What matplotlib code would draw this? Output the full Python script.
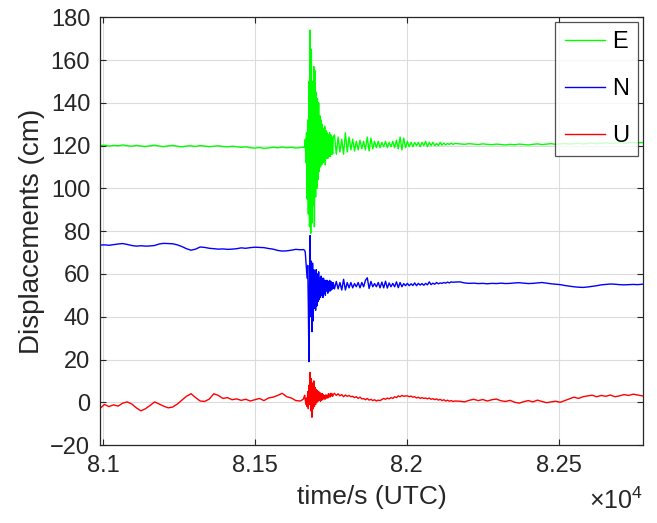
import numpy as np
import matplotlib
matplotlib.use("Agg")
import matplotlib.pyplot as plt

# sample times (s, UTC): calm part, main shaking, coda, calm part
t_pre = np.arange(80990, 81651, 15)
t_evt = np.arange(81660, 81759, 2)
t_coda = np.arange(81762, 82159, 6)
t_post = np.arange(82175, 82776, 15)
t = np.concatenate([t_pre, t_evt, t_coda, t_post])

# East displacement (cm)
e_pre = [120.0, 120.2, 119.8, 120.1, 119.9, 120.3, 120.0, 119.7, 120.1, 119.8,
         119.6, 119.9, 120.2, 119.8, 119.5, 119.9, 120.1, 119.7, 119.4, 119.8,
         119.9, 119.6, 120.0, 119.8, 119.5, 119.7, 119.9, 119.6, 119.4, 119.7,
         119.5, 119.2, 119.4, 119.0, 118.8, 119.1, 118.7, 118.9, 119.2, 119.0,
         119.3, 119.0, 119.2, 118.9, 119.1]
e_evt = [119.2, 119.4, 119.0, 123, 112, 126, 95, 132, 88, 150,
         82, 174, 79, 165, 84, 150, 92, 157, 82, 155,
         96, 145, 100, 142, 104, 140, 108, 134, 110, 132,
         111, 130, 112, 128, 113, 129, 111, 127, 114, 126,
         114, 125, 115, 126, 115, 125, 116, 124, 116, 124]
e_coda = [125, 116, 124, 117, 123, 116, 126, 117, 124, 118,
          123, 117.5, 122, 118, 122.5, 118.5, 122, 118, 124, 117.5,
          123.5, 118.5, 122, 119, 122, 119, 121.5, 119.5, 122, 119,
          121.5, 119.5, 122, 119, 122.5, 118.5, 124, 118, 123.5, 119,
          122, 119.5, 121.5, 119.5, 121.5, 120, 121.5, 119.5, 121.5, 120,
          122, 119.5, 121.5, 120, 121.5, 120, 121, 120, 121.5, 120.2,
          121.2, 120.3, 121, 120.5, 121.2, 120.5, 121]
e_post = [120.8, 120.6, 120.9, 120.7, 120.5, 120.8, 120.6, 120.4, 120.7, 120.5,
          120.3, 120.6, 120.4, 120.7, 120.5, 120.3, 120.6, 120.8, 120.5, 120.7,
          120.9, 120.6, 120.8, 121.0, 120.7, 120.9, 121.1, 120.8, 121.0, 121.2,
          120.9, 121.1, 121.3, 121.0, 121.2, 121.4, 121.1, 121.3, 121.5, 121.3,
          121.4]

# North displacement (cm)
n_pre = [73.5, 73.6, 73.4, 73.7, 74.0, 74.2, 73.8, 73.3, 73.0, 73.2,
         73.0, 73.1, 73.3, 74.0, 74.3, 74.2, 74.1, 73.6, 72.8, 71.8,
         71.1, 71.6, 72.6, 72.4, 72.0, 71.8, 71.6, 71.7, 71.5, 71.6,
         71.8, 72.2, 72.0, 72.3, 72.5, 72.4, 72.3, 71.9, 71.6, 71.0,
         70.7, 70.8, 71.1, 71.5, 71.3]
n_evt = [71.4, 71.2, 71.0, 70.0, 66, 62, 58, 64, 45, 19,
         60, 78, 40, 66, 33, 65, 38, 62, 44, 60,
         43, 62, 45, 60, 47, 61, 48, 58, 49, 59,
         50, 58, 49, 58, 51, 57, 50, 57, 52, 57,
         51, 56.5, 52, 57, 52, 56.5, 52.5, 56, 53, 56]
n_coda = [53, 56.5, 53, 56, 52.5, 57.5, 52.5, 56, 53.5, 56,
          53.5, 55.5, 54, 56, 53.5, 56, 54, 57, 58.2, 53.2,
          56.5, 54, 55.5, 54, 56, 53.5, 56.2, 53.5, 56.6, 53.4,
          55.8, 54, 55.6, 54, 56.3, 53.6, 56, 54, 55.5, 54.5,
          55.6, 54.5, 55.4, 54.6, 55.8, 54.5, 55.6, 54.8, 55.5, 54.7,
          55.6, 54.9, 56.3, 55, 55.7, 55.2, 56, 55.4, 55.8, 55.6,
          56.0, 55.7, 56.2, 55.8, 56.3, 56.1, 56.2]
n_post = [56.3, 55.8, 55.6, 55.7, 55.5, 55.6, 55.4, 55.6, 55.5, 55.7,
          55.5, 55.6, 55.8, 55.9, 55.7, 55.5, 55.6, 55.8, 56.0, 55.7,
          55.4, 55.2, 55.0, 54.6, 54.3, 54.0, 53.8, 53.7, 53.9, 54.2,
          54.5, 54.9, 55.1, 55.3, 55.2, 55.0, 54.9, 55.0, 55.1, 55.0,
          55.2]

# Up displacement (cm)
u_pre = [-3.0, -1.0, -2.0, -1.2, -1.8, -0.4, 0.2, -0.8, -2.6, -4.0,
         -3.0, -1.5, 0.2, -0.8, -1.8, -2.6, -2.2, -0.8, 1.0, 2.8,
         4.0, 2.2, 0.6, 0.4, 1.5, 4.0, 3.2, 1.8, 2.2, 1.2,
         1.6, 0.9, 1.4, 0.6, 1.2, 1.8, 0.8, 2.0, 2.4, 3.2,
         4.2, 2.6, 2.0, 0.8, 0.6]
u_evt = [1.5, 2.5, 3.3, 1.0, -1, 2, -2, 5, -3, 8,
         -1, 14, -4, 11, -7, 9, -3, 10, -2, 7,
         -1, 6, 0, 5.5, 0.5, 5, 1, 4.5, 0.5, 4,
         1, 4, 1.5, 3.5, 1.5, 3, 1.5, 3.5, 2, 3,
         2, 4, 2.5, 3.8, 2.5, 4.2, 3, 4, 2.8, 3.6]
u_coda = [4.2, 3.2, 4.0, 3.0, 3.6, 2.6, 3.4, 2.8, 3.2, 2.6,
          2.8, 2.2, 2.6, 1.8, 2.4, 1.6, 1.7, 1.2, 1.8, 1.0,
          1.4, 0.8, 1.2, 0.6, 1.0, 0.8, 1.3, 1.8, 1.4, 2.0,
          1.6, 2.2, 1.8, 2.6, 2.2, 3.0, 2.6, 3.2, 2.8, 3.0,
          3.0, 2.6, 2.9, 2.4, 2.6, 2.0, 2.4, 1.8, 2.2, 1.8,
          2.0, 1.6, 2.0, 1.4, 1.7, 1.2, 1.6, 1.0, 1.4, 0.8,
          1.2, 0.6, 1.0, 0.5, 0.8, 0.4, 0.6]
u_post = [0.5, 0.2, 0.9, 1.4, 0.8, 1.3, 0.6, 1.2, 1.5, 0.7,
          0.4, 0.9, 0.0, -0.4, 0.3, 0.8, 0.2, 1.0, 0.4, -0.2,
          0.2, 0.5, 0.0, 0.8, 1.6, 2.4, 1.8, 2.6, 3.0, 3.3,
          2.6, 3.2, 2.8, 3.4, 2.6, 3.0, 3.6, 3.2, 3.8, 3.4,
          3.0]

E = np.array(e_pre + e_evt + e_coda + e_post)
N = np.array(n_pre + n_evt + n_coda + n_post)
U = np.array(u_pre + u_evt + u_coda + u_post)

x_ticks = [81000, 81500, 82000, 82500]
x_ticklabels = ['8.1', '8.15', '8.2', '8.25']
y_ticks = [-20, 0, 20, 40, 60, 80, 100, 120, 140, 160, 180]

plt.rcParams['font.family'] = ['Liberation Sans', 'DejaVu Sans']
plt.rcParams['mathtext.fontset'] = 'custom'
plt.rcParams['mathtext.rm'] = 'Liberation Sans'
axcol = '#262626'

fig = plt.figure(figsize=(6.57, 5.23), dpi=100)
ax = fig.add_axes([0.152, 0.149, 0.827, 0.818])

ax.plot(t, E, color=(0, 1, 0), lw=1.0, label='E')
ax.plot(t, N, color=(0, 0, 1), lw=1.0, label='N')
ax.plot(t, U, color=(1, 0, 0), lw=1.0, label='U')

ax.set_xlim(80990, 82778)
ax.set_ylim(-20, 180)
ax.set_xticks(x_ticks)
ax.set_xticklabels(x_ticklabels)
ax.set_yticks(y_ticks)

ax.grid(True, color='#dcdcdc', lw=0.8)
ax.set_axisbelow(True)
ax.tick_params(direction='in', top=True, right=True, length=4, width=0.8,
               colors=axcol, labelsize=17, pad=7)
for s in ax.spines.values():
    s.set_color(axcol)
    s.set_linewidth(0.9)

ax.set_xlabel('time/s (UTC)', fontsize=19, color=axcol, labelpad=6)
ax.set_ylabel('Displacements (cm)', fontsize=20, color=axcol, labelpad=4)
ax.text(1.0, -0.1, r'$\times\mathrm{10}^{4}$', transform=ax.transAxes,
        ha='right', va='top', fontsize=18, color=axcol)

leg = ax.legend(loc='upper right', fontsize=17, frameon=True, fancybox=False,
                borderaxespad=0.2, handlelength=1.7, handletextpad=0.3,
                labelspacing=1.05, borderpad=0.4)
leg.get_frame().set_edgecolor(axcol)
leg.get_frame().set_linewidth(0.9)

fig.savefig('out.png', dpi=100)
